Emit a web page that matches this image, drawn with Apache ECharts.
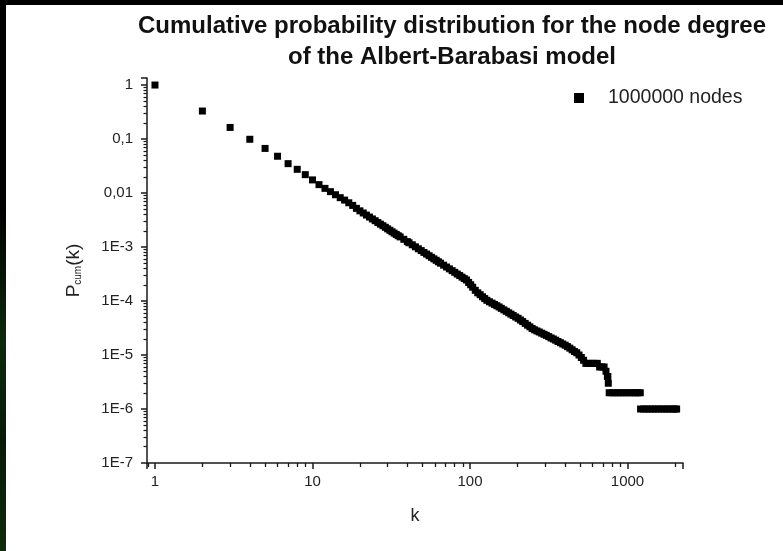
<!DOCTYPE html>
<html>
<head>
<meta charset="utf-8">
<script src="https://cdn.jsdelivr.net/npm/echarts@6/dist/echarts.min.js"></script>
<style>
  html, body { margin: 0; padding: 0; width: 783px; height: 551px; overflow: hidden;
    background: linear-gradient(to bottom, #000 0%, #000 38%, #0d2a0c 62%, #081a07 80%, #0f2a0c 100%); }
  #paper { position: absolute; left: 6px; top: 5px; width: 777px; height: 546px; background: #fff; }
  #chart { position: absolute; left: 0; top: 0; width: 783px; height: 551px; }
</style>
</head>
<body>
<div id="paper"></div>
<div id="chart"></div>
<script>
// ---- data ----
const kValues = [1, 2, 3, 4, 5, 6, 7, 8, 9, 10,
  11, 12, 13, 14, 15, 16, 17, 18, 19,
  20, 21, 22, 23, 24, 25, 26, 27, 28, 29, 30, 31, 32, 33, 34, 35, 36, 38, 40, 41,
  43, 45, 47, 49, 51, 53, 55, 57, 59, 61, 63, 65, 68, 71, 74, 77, 80, 83, 86, 89,
  92, 95, 98, 101, 104, 108, 112, 116, 120, 124, 128, 133, 138, 143, 148, 153, 158, 164, 170, 176,
  182, 188, 195, 202, 209, 216, 224, 232, 240, 248, 257, 266, 275, 285, 295, 305, 316, 327, 338, 350,
  362, 375, 388, 402, 416, 430, 445, 460, 476, 492, 509, 526, 544, 563, 582, 602, 622, 643, 665, 688,
  710, 730, 745, 750, 755,
  765, 800, 835, 872, 910, 950, 990, 1035, 1080, 1125, 1165, 1205,
  1210, 1265, 1320, 1380, 1440, 1505, 1570, 1640, 1710, 1785, 1860, 1940, 2000, 2050];
const pValues = [1, 0.33, 0.164, 0.099, 0.067, 0.048, 0.035, 0.0275, 0.0219, 0.0175,
  0.0143, 0.0122, 0.0106, 0.0093, 0.0082, 0.0074, 0.0066, 0.0059, 0.0052,
  0.00468, 0.00427, 0.00391, 0.00359, 0.00331, 0.00307, 0.00284, 0.00265, 0.00248, 0.00232, 0.00217, 0.00204, 0.00192, 0.00181, 0.00171, 0.00162, 0.00154, 0.00139, 0.00126, 0.0012,
  0.0011, 0.00101, 0.000929, 0.000859, 0.000794, 0.00074, 0.00069, 0.000644, 0.000604, 0.000568, 0.000533, 0.000502, 0.000461, 0.000426, 0.000394, 0.000365, 0.00034, 0.000316, 0.000296, 0.000277,
  0.00026, 0.000245, 0.000221, 0.0002, 0.00018, 0.000158, 0.000142, 0.000131, 0.00012, 0.000111, 0.000103, 0.0000968, 0.0000914, 0.0000865, 0.0000818, 0.0000776, 0.0000731, 0.0000685, 0.0000645, 0.0000605,
  0.0000571, 0.000054, 0.0000506, 0.0000478, 0.0000445, 0.0000416, 0.0000385, 0.0000357, 0.0000333, 0.000031, 0.0000293, 0.0000279, 0.0000267, 0.0000254, 0.0000242, 0.0000231, 0.0000219, 0.0000207, 0.0000198, 0.0000188,
  0.0000178, 0.0000169, 0.000016, 0.0000152, 0.0000143, 0.0000134, 0.0000125, 0.0000116, 0.000011, 0.00001, 0.000009, 0.000008, 0.000007, 0.000007, 0.000007, 0.000007, 0.000007, 0.000007, 0.000006, 0.000006,
  0.000006, 0.000005, 0.000004, 0.000004, 0.000003,
  0.000002, 0.000002, 0.000002, 0.000002, 0.000002, 0.000002, 0.000002, 0.000002, 0.000002, 0.000002, 0.000002, 0.000002,
  0.000001, 0.000001, 0.000001, 0.000001, 0.000001, 0.000001, 0.000001, 0.000001, 0.000001, 0.000001, 0.000001, 0.000001, 0.000001, 0.000001];
const seriesName = '1000000 nodes';
const xTickLabels = { 0: '1', 1: '10', 2: '100', 3: '1000' };
const yTickLabels = { '-7': '1E-7', '-6': '1E-6', '-5': '1E-5', '-4': '1E-4', '-3': '1E-3', '-2': '0,01', '-1': '0,1', '0': '1' };
const xRange = [0.89, 2250];
const yRange = [1e-7, 1.35];
const titleLines = ['Cumulative probability distribution for the node degree', 'of the Albert-Barabasi model'];

// ---- build ----
const FONT = 'Liberation Sans, Arial, sans-serif';
const INK = '#1a1a1a';
const data = kValues.map((k, i) => [k, pValues[i]]);

function minorLogs(lo, hi) {
  const out = [];
  for (let e = Math.floor(Math.log10(lo)); e <= Math.ceil(Math.log10(hi)); e++) {
    for (let m = 2; m <= 9; m++) {
      const v = m * Math.pow(10, e);
      if (v > lo && v < hi) out.push(Math.log10(v));
    }
  }
  return out;
}
function powLabel(map) {
  return function (v) {
    const l = Math.log10(v), e = Math.round(l);
    if (Math.abs(l - e) > 1e-6) return '';
    return map[e] !== undefined ? map[e] : '';
  };
}

const chart = echarts.init(document.getElementById('chart'), null, { renderer: 'canvas' });
chart.setOption({
  animation: false,
  backgroundColor: 'transparent',
  textStyle: { fontFamily: FONT },
  title: {
    text: titleLines.join('\n'),
    left: 447, top: 6, textAlign: 'center',
    textStyle: { fontFamily: FONT, fontSize: 24, fontWeight: 'bold', color: '#111', lineHeight: 31 }
  },
  legend: {
    left: 574, top: 88, padding: 0,
    itemWidth: 10, itemHeight: 10,
    data: [{ name: seriesName, icon: 'rect' }],
    formatter: function (n) { return '{g|}{t|' + n + '}'; },
    textStyle: { fontFamily: FONT, fontSize: 19, color: '#222',
      rich: { g: { width: 19 }, t: { fontFamily: FONT, fontSize: 19.5, color: '#222' } } }
  },
  grid: { left: 147, right: 100, top: 78, bottom: 88, containLabel: false },
  xAxis: [{
    type: 'log', logBase: 10, min: xRange[0], max: xRange[1],
    name: 'k', nameLocation: 'middle', nameGap: 44,
    nameTextStyle: { fontFamily: FONT, fontSize: 18, color: '#222' },
    axisLine: { onZero: false, lineStyle: { color: INK, width: 1.5 } },
    axisTick: { show: true, inside: false, length: 6, lineStyle: { color: INK, width: 1.5 } },
    axisLabel: { formatter: powLabel(xTickLabels), margin: 11, fontFamily: FONT, fontSize: 15, color: '#222' },
    splitLine: { show: false }, minorTick: { show: false }
  }, {
    type: 'value', position: 'bottom', min: Math.log10(xRange[0]), max: Math.log10(xRange[1]),
    axisLine: { show: false, onZero: false }, axisLabel: { show: false }, splitLine: { show: false },
    axisTick: { show: true, length: 4, customValues: minorLogs(xRange[0], xRange[1]), lineStyle: { color: INK, width: 1.3 } }
  }],
  yAxis: [{
    type: 'log', logBase: 10, min: yRange[0], max: yRange[1],
    name: '{p|P}{s|cum}{p|(k)}', nameLocation: 'middle', nameGap: 64,
    nameTextStyle: { fontFamily: FONT, color: '#222',
      rich: { p: { fontFamily: FONT, fontSize: 19, color: '#222', verticalAlign: 'bottom', lineHeight: 22 },
              s: { fontFamily: FONT, fontSize: 10, color: '#222', verticalAlign: 'bottom', lineHeight: 12 } } },
    axisLine: { onZero: false, lineStyle: { color: INK, width: 1.5 } },
    axisTick: { show: true, inside: false, length: 6, lineStyle: { color: INK, width: 1.5 } },
    axisLabel: { formatter: powLabel(yTickLabels), margin: 14, fontFamily: FONT, fontSize: 15, color: '#222' },
    splitLine: { show: false }, minorTick: { show: false }
  }, {
    type: 'value', position: 'left', min: Math.log10(yRange[0]), max: Math.log10(yRange[1]),
    axisLine: { show: false, onZero: false }, axisLabel: { show: false }, splitLine: { show: false },
    axisTick: { show: true, length: 3.5, customValues: minorLogs(yRange[0], yRange[1]), lineStyle: { color: INK, width: 1.2 } }
  }],
  series: [{
    name: seriesName, type: 'scatter', xAxisIndex: 0, yAxisIndex: 0,
    symbol: 'rect', symbolSize: 7,
    itemStyle: { color: '#000', opacity: 1 },
    data: data
  }]
});
</script>
</body>
</html>
